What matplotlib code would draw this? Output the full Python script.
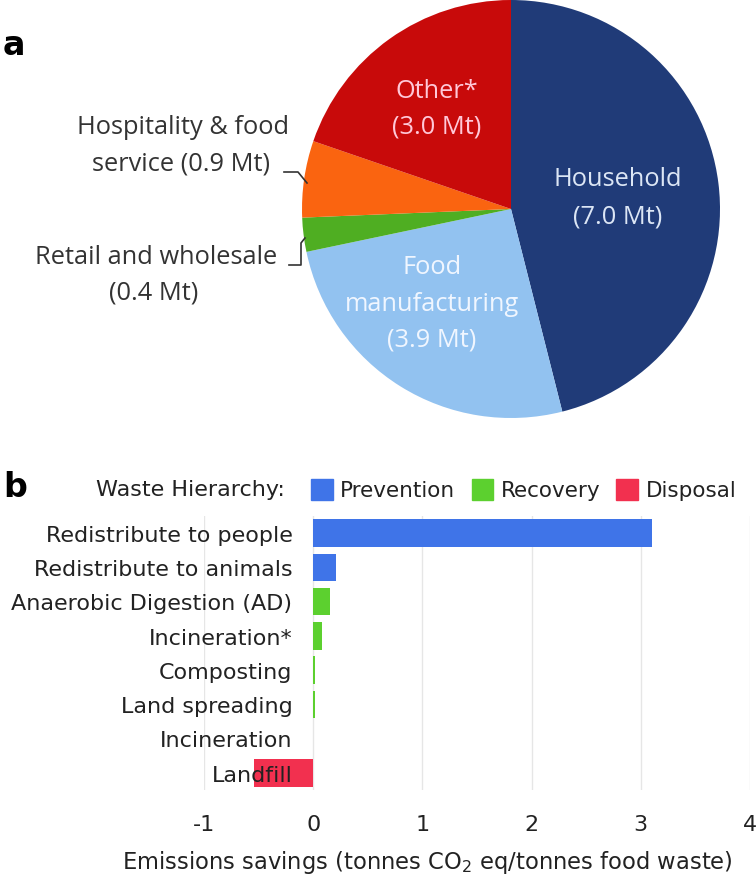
import numpy as np
import matplotlib.pyplot as plt
from matplotlib.patches import Patch

# panel a: food waste by sector (Mt)
sectors = ['Household', 'Food manufacturing', 'Retail and wholesale',
           'Hospitality & food service', 'Other*']
waste_mt = [7.0, 3.9, 0.4, 0.9, 3.0]
sector_colors = ['#203B78', '#92C2F0', '#4FAE22', '#FA6410', '#C80A0A']

# panel b: emissions savings (t CO2 eq / t food waste)
options = ['Redistribute to people', 'Redistribute to animals',
           'Anaerobic Digestion (AD)', 'Incineration*', 'Composting',
           'Land spreading', 'Incineration', 'Landfill']
savings = [3.1, 0.21, 0.15, 0.08, 0.02, 0.02, 0.0, -0.54]
hierarchy = ['Prevention', 'Prevention', 'Recovery', 'Recovery', 'Recovery',
             'Recovery', 'Recovery', 'Disposal']
hier_colors = {'Prevention': '#3F74E8', 'Recovery': '#5CD02F', 'Disposal': '#F2304F'}

W, H = 756, 877
fig = plt.figure(figsize=(W / 100, H / 100), dpi=100)


def px(x, y):
    return x / W, 1 - y / H


# ---- pie ----
cx, cy, r = 511, 209, 209
axp = fig.add_axes([(cx - r) / W, 1 - (cy + r) / H, 2 * r / W, 2 * r / H])
axp.pie(waste_mt, colors=sector_colors, startangle=90, counterclock=False,
        wedgeprops=dict(linewidth=0))
axp.set_xlim(-1, 1)
axp.set_ylim(-1, 1)

tf = 'Open Sans'
fs = 18.3
inner = [('Other*', 437, 91, '#FFC8D8'), ('(3.0 Mt)', 437, 127, '#FFC8D8'),
         ('Household', 618, 180, '#DCE6F5'), ('(7.0 Mt)', 618, 217, '#DCE6F5'),
         ('Food', 432, 267, '#F0F6FF'), ('manufacturing', 432, 304, '#F0F6FF'),
         ('(3.9 Mt)', 432, 340, '#F0F6FF'),
         ('Hospitality & food', 183, 128, '#333333'), ('service (0.9 Mt)', 181, 164, '#333333'),
         ('Retail and wholesale', 156, 258, '#333333'), ('(0.4 Mt)', 154, 293, '#333333')]
for txt, x, y, c in inner:
    fig.text(*px(x, y), txt, color=c, fontsize=fs, family=tf, ha='center', va='center')

# leader lines
fig.add_artist(plt.Line2D([284 / W, 298 / W, 307 / W],
                          [1 - 172 / H, 1 - 172 / H, 1 - 183 / H],
                          color='#333333', lw=1.2))
fig.add_artist(plt.Line2D([289 / W, 301 / W, 301 / W, 305 / W],
                          [1 - 265 / H, 1 - 265 / H, 1 - 243 / H, 1 - 238 / H],
                          color='#333333', lw=1.2))

fig.text(*px(3, 55), 'a', fontsize=24, fontweight='bold', ha='left', va='baseline')
fig.text(*px(3, 497), 'b', fontsize=24, fontweight='bold', ha='left', va='baseline')

# ---- bar chart ----
bf = 16
x0, x1 = 204, 750
y0, y1 = 516, 790
axb = fig.add_axes([x0 / W, 1 - y1 / H, (x1 - x0) / W, (y1 - y0) / H])
ypos = np.arange(len(options))
axb.barh(ypos, savings, height=0.8, color=[hier_colors[h] for h in hierarchy], zorder=2)
axb.set_xlim(-1, 4)
axb.set_ylim(len(options) - 0.5, -0.5)
axb.set_xticks([-1, 0, 1, 2, 3, 4])
axb.set_xticklabels(['-1', '0', '1', '2', '3', '4'])
axb.set_yticks([])
for i, lab in enumerate(options):
    axb.text(-0.19, i + 0.08, lab, ha='right', va='center', fontsize=bf, color='#222222', zorder=5)
axb.grid(axis='x', color='#E6E6E6', lw=1, zorder=0)
for s in axb.spines.values():
    s.set_visible(False)
axb.tick_params(length=0, labelsize=bf, colors='#222222')
axb.tick_params(axis='x', pad=18)
fig.text(*px(427, 862), 'Emissions savings (tonnes CO$_2$ eq/tonnes food waste)', fontsize=16.3,
         color='#222222', ha='center', va='center')

handles = [Patch(color=hier_colors[k]) for k in ['Prevention', 'Recovery', 'Disposal']]
leg = fig.legend(handles, ['Prevention', 'Recovery', 'Disposal'], loc='center left',
                 bbox_to_anchor=(307 / W, 1 - 490 / H), ncol=3, frameon=False, fontsize=15.5,
                 handlelength=1.0, handleheight=1.1, handletextpad=0.35, columnspacing=0.75,
                 borderaxespad=0, borderpad=0.2)
for t in leg.get_texts():
    t.set_color('#222222')
fig.text(*px(285, 490), 'Waste Hierarchy:', fontsize=bf, color='#222222', ha='right', va='center')

fig.savefig('out.png', dpi=100)
